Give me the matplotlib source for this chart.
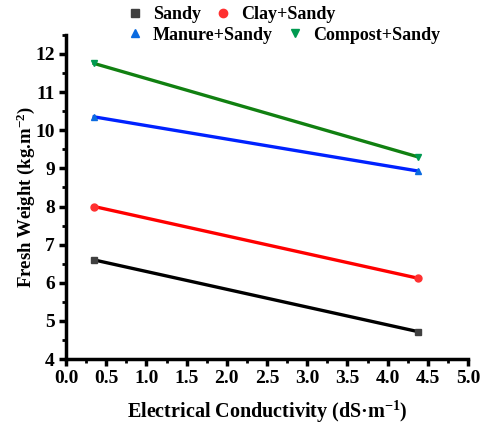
import matplotlib
matplotlib.use("Agg")
import matplotlib.pyplot as plt
from matplotlib.ticker import MultipleLocator
from matplotlib.lines import Line2D

plt.rcParams['font.family'] = ['Liberation Serif', 'DejaVu Serif']
plt.rcParams['font.weight'] = 'bold'
plt.rcParams['mathtext.fontset'] = 'custom'
plt.rcParams['mathtext.rm'] = 'Liberation Serif:bold'
plt.rcParams['mathtext.it'] = 'Liberation Serif:bold'
plt.rcParams['mathtext.bf'] = 'Liberation Serif:bold'

ec = [0.35, 4.38]
series = ["Sandy", "Clay+Sandy", "Manure+Sandy", "Compost+Sandy"]
sandy = [6.6, 4.72]
clay = [8.0, 6.12]
manure = [10.35, 8.93]
compost = [11.75, 9.3]
values = [sandy, clay, manure, compost]
line_colors = ["black", "#ff0000", "#0022ff", "#118011"]
marker_colors = ["#404040", "#ff3030", "#0a6ae0", "#009a50"]
markers = ["s", "o", "^", "v"]

fig = plt.figure(figsize=(4.8, 4.25), dpi=100)
ax = fig.add_axes([0.1375, 0.155, 0.8375, 0.763])

for v, lc, mc, m in zip(values, line_colors, marker_colors, markers):
    ax.plot(ec, v, color=lc, lw=2.4, marker=m, markersize=5,
            markerfacecolor=mc, markeredgecolor=mc, zorder=3)

ax.set_xlim(0, 5.0)
ax.set_ylim(4, 12.5)
ax.xaxis.set_major_locator(MultipleLocator(0.5))
ax.xaxis.set_minor_locator(MultipleLocator(0.25))
ax.yaxis.set_major_locator(MultipleLocator(1))
ax.yaxis.set_minor_locator(MultipleLocator(0.5))
ax.set_yticks(range(4, 13))

for s in ['top', 'right']:
    ax.spines[s].set_visible(False)
for s in ['left', 'bottom']:
    ax.spines[s].set_linewidth(2.5)

ax.tick_params(which='major', direction='out', length=5, width=2.5,
               labelsize=14, pad=3)
ax.tick_params(which='minor', direction='out', length=3, width=2)
ax.set_xticklabels([f"{x:.1f}" for x in ax.get_xticks()])
for lbl in ax.get_xticklabels() + ax.get_yticklabels():
    lbl.set_fontweight('bold')

ax.set_xlabel(r"Electrical Conductivity (dS·m$^{-1}$)", fontsize=14.5,
              fontweight='bold', labelpad=8)
ax.set_ylabel(r"Fresh Weight (kg.m$^{-2}$)", fontsize=13.5,
              fontweight='bold', labelpad=-1)

handles = [Line2D([], [], linestyle='none', marker=m, color=mc, markersize=6)
           for m, mc in zip(markers, marker_colors)]
common = dict(ncol=2, frameon=False, prop={'weight': 'bold', 'size': 13},
              handletextpad=0.5, columnspacing=0.75, handlelength=1.0,
              borderpad=0, borderaxespad=0, loc='center left')
fig.legend(handles[:2], series[:2], bbox_to_anchor=(0.262, 0.965), **common)
fig.legend(handles[2:], series[2:], bbox_to_anchor=(0.262, 0.917), **common)

fig.savefig("out.png", dpi=100)
